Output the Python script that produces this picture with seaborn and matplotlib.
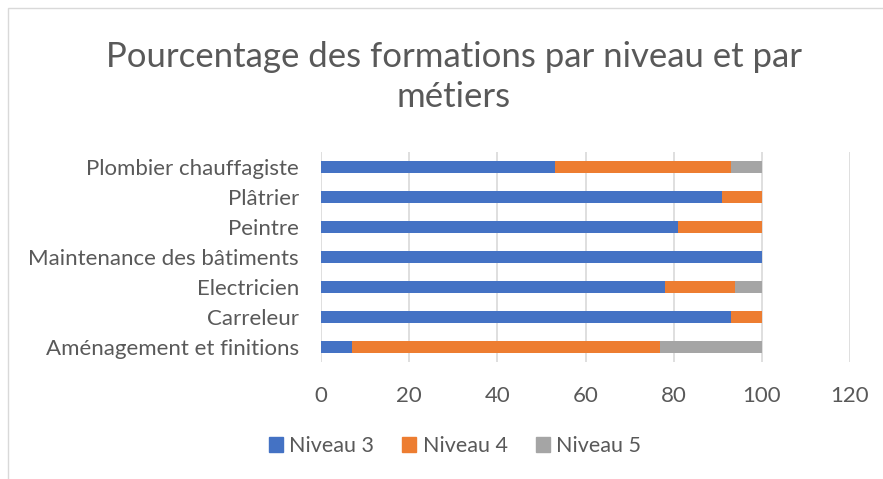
import matplotlib
matplotlib.use("Agg")
import matplotlib.pyplot as plt
import matplotlib.patches as mpatches
import seaborn as sns
import pandas as pd
import numpy as np

metiers = ["Plombier chauffagiste", "Plâtrier", "Peintre", "Maintenance des bâtiments",
           "Electricien", "Carreleur", "Aménagement et finitions"]
niveau3 = [53, 91, 81, 100, 78, 93, 7]
niveau4 = [40, 9, 19, 0, 16, 7, 70]
niveau5 = [7, 0, 0, 0, 6, 0, 23]
series_names = ["Niveau 3", "Niveau 4", "Niveau 5"]
colors = ["#4472C4", "#ED7D31", "#A5A5A5"]
xticks = [0, 20, 40, 60, 80, 100, 120]

sns.set_theme(style="white")
plt.rcParams['font.family'] = ['Lato', 'DejaVu Sans']
text_color = "#595959"

df = pd.DataFrame({"metier": metiers, "n3": niveau3, "n4": niveau4, "n5": niveau5})
df["c3"] = df["n3"]
df["c4"] = df["n3"] + df["n4"]
df["c5"] = df["n3"] + df["n4"] + df["n5"]

fig = plt.figure(figsize=(8.83, 4.79), dpi=100)
ax = fig.add_axes([321/883, 1-362/479, (850-321)/883, (362-152)/479])

for col, c in zip(["c5", "c4", "c3"], colors[::-1]):
    sns.barplot(data=df, x=col, y="metier", order=metiers, color=c, orient="h",
                width=0.4, ax=ax, saturation=1, linewidth=0, zorder=3)

ax.set_xlim(0, 120)
ax.set_ylim(6.5, -0.5)
ax.set_xticks(xticks)
ax.set_xticklabels([str(t) for t in xticks])
ax.grid(axis="x", color="#D9D9D9", linewidth=1.2, zorder=0)
ax.set_axisbelow(True)
for s in ax.spines.values():
    s.set_visible(False)
ax.set_xlabel("")
ax.set_ylabel("")
ax.tick_params(axis="x", length=0, pad=17, labelsize=16, labelcolor=text_color)
ax.tick_params(axis="y", length=0, pad=16, labelsize=16, labelcolor=text_color)

fig.text(454/883, 1-77/479, "Pourcentage des formations par niveau et par\nmétiers",
         ha="center", va="center", fontsize=25, color=text_color, linespacing=1.3)

handles = [mpatches.Patch(color=c, label=n) for c, n in zip(colors, series_names)]
fig.legend(handles=handles, loc="center", bbox_to_anchor=(455/883, 1-446/479), ncol=3,
           frameon=False, fontsize=15.5, labelcolor=text_color, handlelength=0.65,
           handleheight=0.65, handletextpad=0.3, columnspacing=1.3)

fig.patches.append(mpatches.Rectangle((8/883, -0.1), 1.2, 1-8/479+0.1, transform=fig.transFigure,
                                      fill=False, edgecolor="#D9D9D9", linewidth=1))

fig.savefig("out.png", dpi=100, facecolor="white")
